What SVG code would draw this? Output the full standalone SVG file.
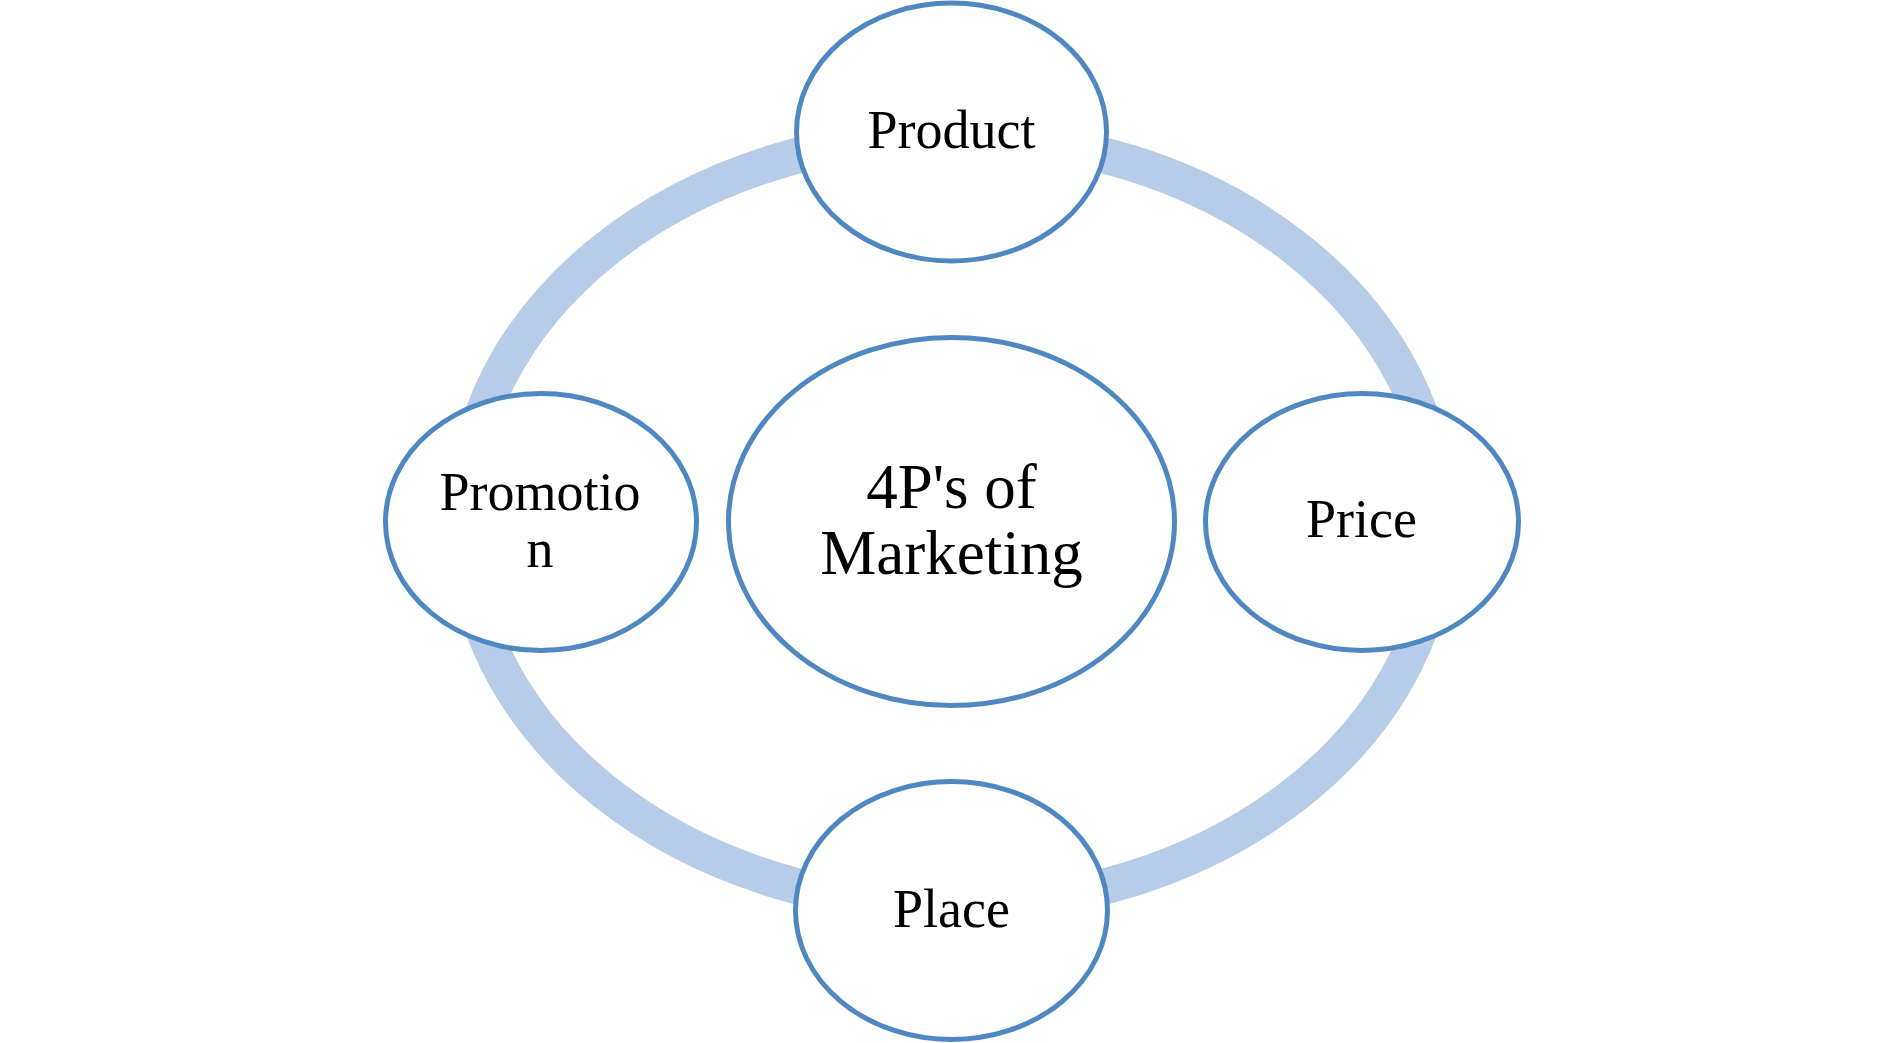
<svg xmlns="http://www.w3.org/2000/svg" width="1902" height="1043" viewBox="0 0 1902 1043">
<style>
.node ellipse{fill:#ffffff;stroke:#4F88C1;stroke-width:5}
.label{font-family:"Liberation Serif","Times New Roman",serif;font-size:54px;fill:#000000;text-anchor:middle}
.big{font-size:63px}
.ring{fill:none;stroke:#B6CCE8;stroke-width:36}
</style>
<rect width="1902" height="1043" fill="#ffffff"/>
<g id="connectors">
<ellipse class="ring" cx="951.5" cy="521" rx="488" ry="385"/>
</g>
<g id="node-center" class="node">
<ellipse cx="951.5" cy="521.5" rx="223" ry="184"/>
<text class="label big" x="951.5" y="508">4P's of</text>
<text class="label big" x="951.5" y="574">Marketing</text>
</g>
<g id="node-product" class="node">
<ellipse cx="951.5" cy="132" rx="155" ry="129"/>
<text class="label" x="951.5" y="148">Product</text>
</g>
<g id="node-promotion" class="node">
<ellipse cx="541" cy="522" rx="155.5" ry="128.5"/>
<text class="label" x="540" y="510">Promotio</text>
<text class="label" x="540" y="567">n</text>
</g>
<g id="node-price" class="node">
<ellipse cx="1362" cy="522" rx="156.5" ry="128.5"/>
<text class="label" x="1361.5" y="537">Price</text>
</g>
<g id="node-place" class="node">
<ellipse cx="951.5" cy="910.5" rx="156" ry="129"/>
<text class="label" x="951.5" y="927">Place</text>
</g>
</svg>
